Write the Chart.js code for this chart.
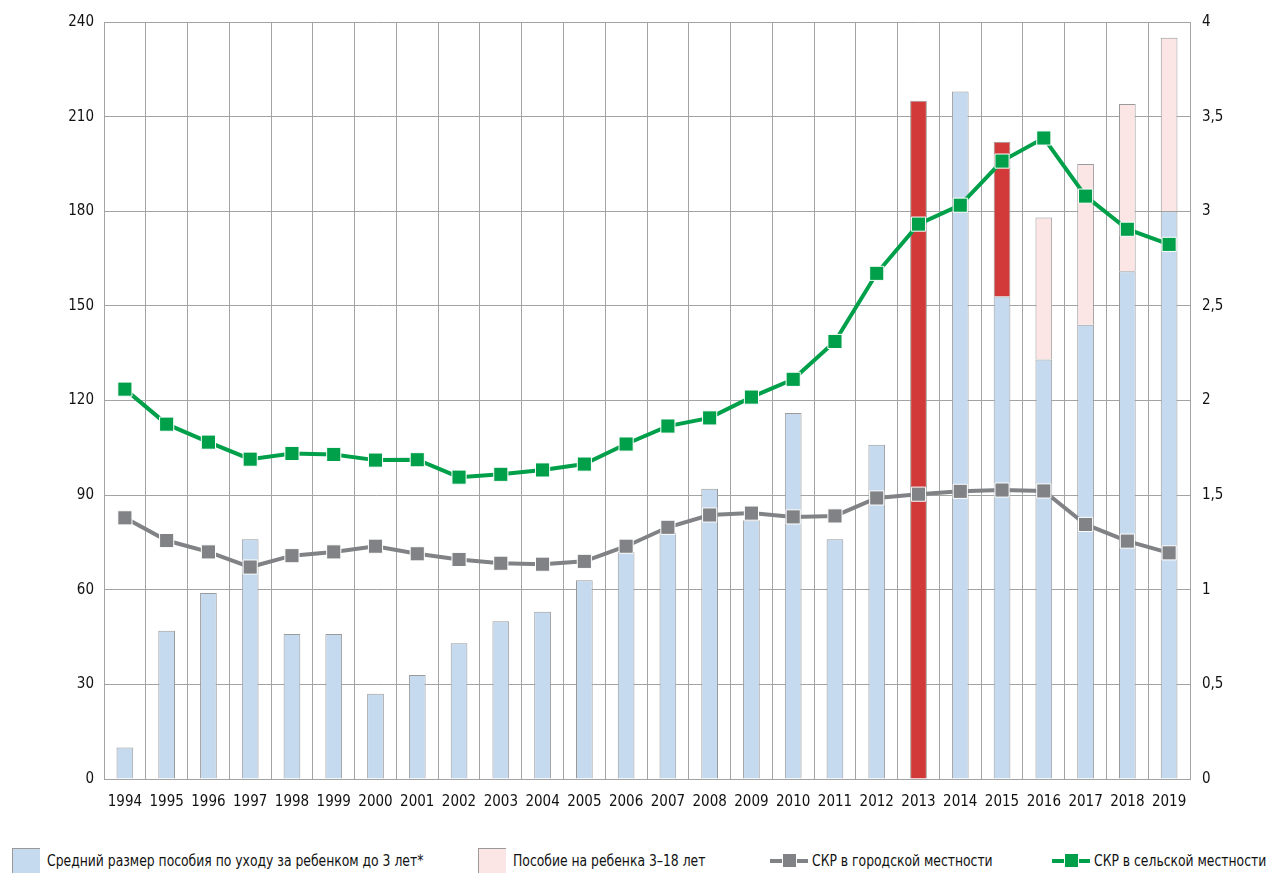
<!DOCTYPE html>
<html>
<head>
<meta charset="utf-8">
<script src="https://cdn.jsdelivr.net/npm/chart.js@4"></script>
<style>
  body { margin: 0; background: #fff; font-family: "DejaVu Sans Condensed", "Liberation Sans Narrow", sans-serif; }
  #wrap { position: relative; width: 1275px; height: 830px; }
  #legend { position: absolute; top: 848px; left: 0; width: 1275px; height: 25px; font-size: 16px; color: #111; }
  .item { position: absolute; top: 0; display: flex; align-items: center; height: 25px; white-space: nowrap; }
  .item .t { display: inline-block; transform: scaleX(0.86); transform-origin: left center; }
  .box { width: 28px; height: 25px; border-top: 1px solid #999; border-left: 1px solid #999; margin-right: 7px; box-sizing: border-box; }
  .ln { position: relative; width: 38px; height: 4px; margin-right: 4px; }
  .ln span { position: absolute; left: 12px; top: -6px; width: 15px; height: 15px; border: 1px solid #fff; box-sizing: border-box; }
</style>
</head>
<body>
<div id="wrap"><canvas id="chart" width="1275" height="830"></canvas></div>
<div id="legend">
  <div class="item" style="left:12px"><div class="box" style="background:#c6daef"></div><span class="t">Средний размер пособия по уходу за ребенком до 3 лет*</span></div>
  <div class="item" style="left:478px"><div class="box" style="background:#fce5e5"></div><span class="t">Пособие на ребенка 3–18 лет</span></div>
  <div class="item" style="left:770px"><div class="ln" style="background:#808285"><span style="background:#808285"></span></div><span class="t">СКР в городской местности</span></div>
  <div class="item" style="left:1052px"><div class="ln" style="background:#00a04b"><span style="background:#00a04b"></span></div><span class="t">СКР в сельской местности</span></div>
</div>
<script>
// Categories
const years = ['1994','1995','1996','1997','1998','1999','2000','2001','2002','2003','2004','2005','2006',
               '2007','2008','2009','2010','2011','2012','2013','2014','2015','2016','2017','2018','2019'];

// Childcare allowance up to 3 years (blue segment)
const careAllowance = [10, 47, 59, 76, 46, 46, 27, 33, 43, 50, 53, 63, 72,
                       78, 92, 82, 116, 76, 106, 0, 218, 153, 133, 144, 161, 180];
// Red segment (2013, 2015)
const redPart = [null, null, null, null, null, null, null, null, null, null, null, null, null,
                 null, null, null, null, null, null, 215, null, 49, null, null, null, null];
// Child allowance 3-18 years (pink segment on top)
const childAllowance = [null, null, null, null, null, null, null, null, null, null, null, null, null,
                        null, null, null, null, null, null, null, null, null, 45, 51, 53, 55];

// Total fertility rate
const tfrUrban = [1.38, 1.26, 1.20, 1.12, 1.18, 1.20, 1.23, 1.19, 1.16, 1.14, 1.135, 1.15, 1.23,
                  1.33, 1.395, 1.405, 1.385, 1.39, 1.485, 1.505, 1.52, 1.527, 1.522, 1.345, 1.257, 1.195];
const tfrRural = [2.06, 1.875, 1.78, 1.69, 1.72, 1.715, 1.685, 1.687, 1.595, 1.61, 1.633, 1.664, 1.77,
                  1.865, 1.908, 2.018, 2.112, 2.312, 2.672, 2.932, 3.032, 3.265, 3.387, 3.08, 2.905, 2.825];

const leftTicks = [0, 30, 60, 90, 120, 150, 180, 210, 240];

const font = { family: '"DejaVu Sans Condensed", "Liberation Sans Narrow", sans-serif', size: 15 };
const gridColor = '#a3a3a3';
const barBorder = '#9a9a9a';

const ctx = document.getElementById('chart').getContext('2d');
new Chart(ctx, {
    type: 'bar',
    data: {
        labels: years,
        datasets: [
            {
                type: 'line', label: 'СКР в городской местности', data: tfrUrban, yAxisID: 'y2',
                borderColor: '#808285', backgroundColor: '#808285', borderWidth: 4,
                pointStyle: 'rect', pointRadius: 10, pointBorderColor: '#ffffff', pointBorderWidth: 1,
                tension: 0, order: 1
            },
            {
                type: 'line', label: 'СКР в сельской местности', data: tfrRural, yAxisID: 'y2',
                borderColor: '#00a04b', backgroundColor: '#00a04b', borderWidth: 4,
                pointStyle: 'rect', pointRadius: 10, pointBorderColor: '#ffffff', pointBorderWidth: 1,
                tension: 0, order: 0
            },
            {
                label: 'Средний размер пособия по уходу за ребенком до 3 лет*', data: careAllowance,
                backgroundColor: '#c6daef', borderColor: barBorder, borderWidth: 1, order: 2
            },
            {
                label: 'red', data: redPart,
                backgroundColor: '#d13a38', borderColor: barBorder, borderWidth: 1, order: 2
            },
            {
                label: 'Пособие на ребенка 3–18 лет', data: childAllowance,
                backgroundColor: '#fce5e5', borderColor: barBorder, borderWidth: 1, order: 2
            }
        ]
    },
    options: {
        responsive: false,
        animation: false,
        layout: { padding: { top: 22 } },
        datasets: { bar: { categoryPercentage: 1, barPercentage: 0.4 } },
        plugins: { legend: { display: false }, tooltip: { enabled: false } },
        scales: {
            x: {
                stacked: true,
                grid: { color: gridColor, drawTicks: false, offset: true },
                border: { color: gridColor },
                ticks: { color: '#111', font: font, padding: 14, maxRotation: 0, autoSkip: false },
                afterFit: s => { s.height = 51; }
            },
            y: {
                stacked: true, min: 0, max: 240,
                afterBuildTicks: s => { s.ticks = leftTicks.map(v => ({ value: v })); },
                grid: { color: gridColor, drawTicks: false },
                border: { color: gridColor },
                ticks: { color: '#111', font: font, padding: 10 },
                afterFit: s => { s.width = 104; }
            },
            y2: {
                position: 'right', min: 0, max: 4,
                ticks: { stepSize: 0.5, color: '#111', font: font, padding: 12,
                         callback: v => String(v).replace('.', ',') },
                grid: { display: false, drawTicks: false },
                border: { color: gridColor },
                afterFit: s => { s.width = 85; }
            }
        }
    }
});
</script>
</body>
</html>
